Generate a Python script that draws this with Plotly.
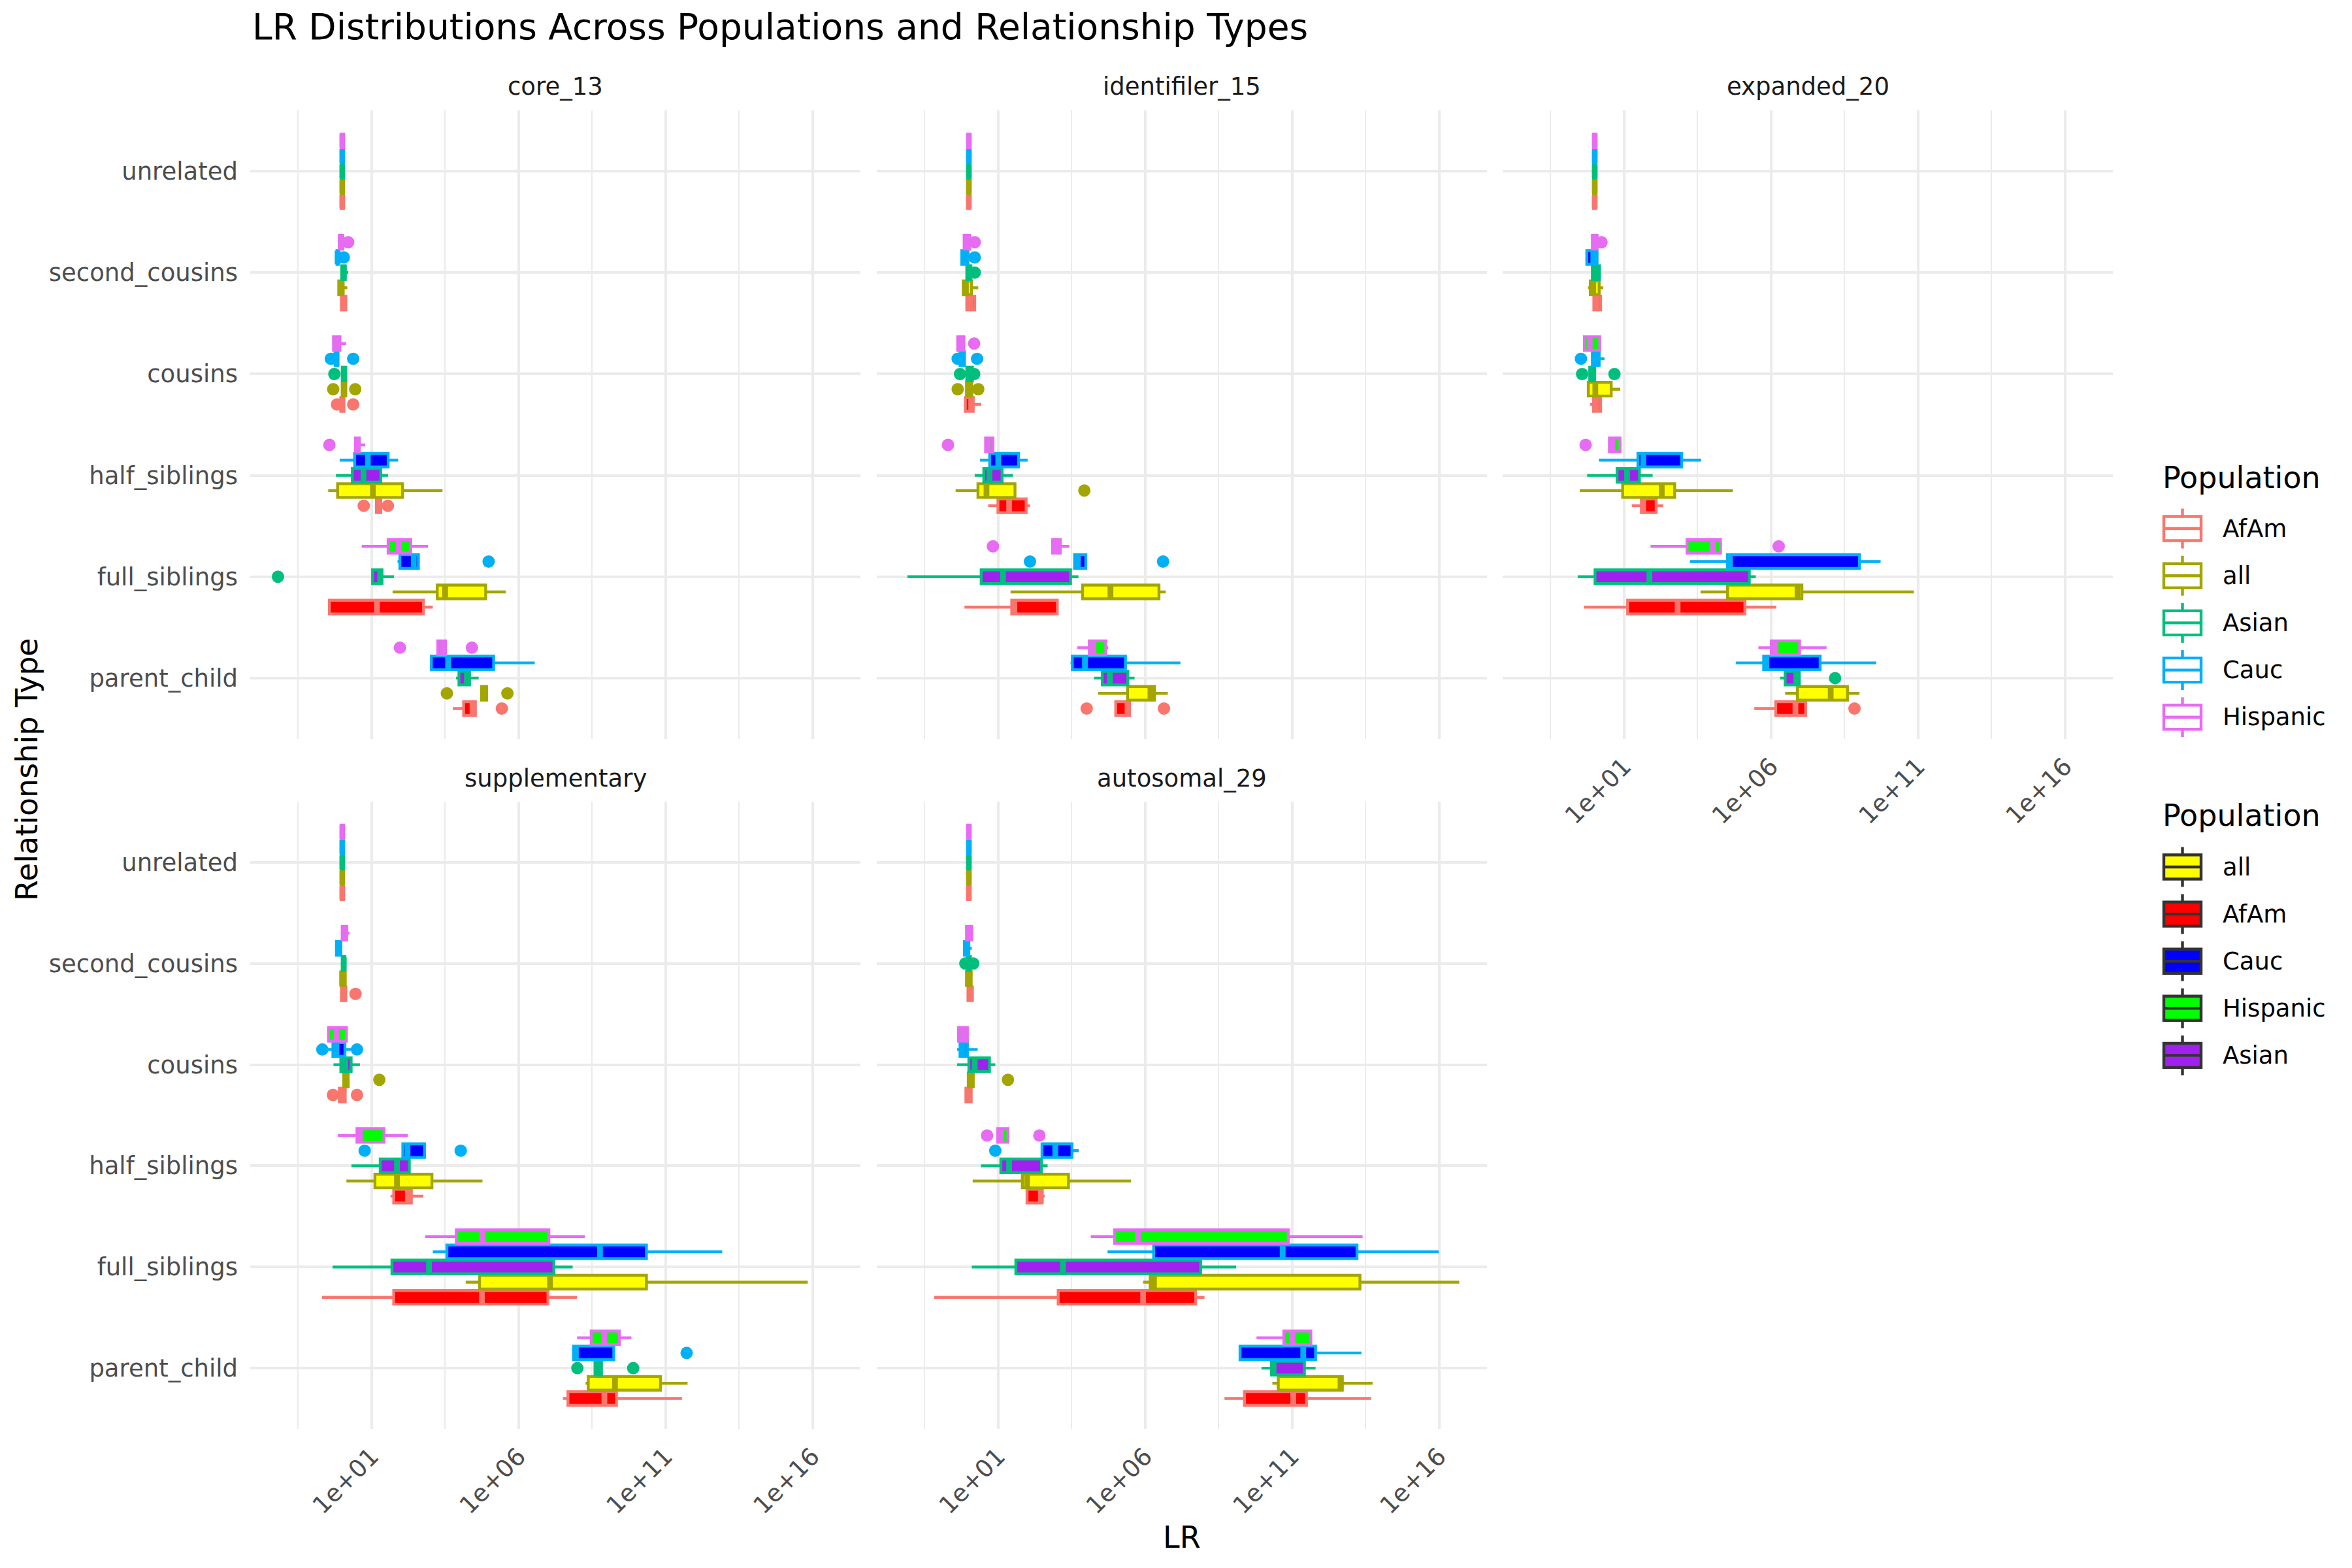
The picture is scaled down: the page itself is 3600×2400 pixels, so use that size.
import plotly.graph_objects as go

# ---------------- data (log10 LR) ----------------
RELATIONSHIPS = ["unrelated", "second_cousins", "cousins", "half_siblings", "full_siblings", "parent_child"]
FACETS = ["core_13", "identifiler_15", "expanded_20", "supplementary", "autosomal_29"]
POPULATIONS = ["AfAm", "all", "Asian", "Cauc", "Hispanic"]          # colour order / dodge order (bottom -> top)
FILL_ORDER = ["all", "AfAm", "Cauc", "Hispanic", "Asian"]            # fill legend order
OUTLINE = {"AfAm": "#F8766D", "all": "#A3A500", "Asian": "#00BF7D", "Cauc": "#00B0F6", "Hispanic": "#E76BF3"}
FILL = {"all": "#FFFF00", "AfAm": "#FF0000", "Cauc": "#0000FF", "Hispanic": "#00FF00", "Asian": "#A020F0"}
TICK_EXPONENTS = [1, 6, 11, 16]
TICK_LABELS = ["1e+01", "1e+06", "1e+11", "1e+16"]

# each entry: (lower whisker, q1, median, q3, upper whisker) in log10(LR), rows follow RELATIONSHIPS
CORE_13 = {
    "AfAm":     [(-0.05, -0.04, 0.0, 0.04, 0.05), (-0.03, -0.03, 0.05, 0.12, 0.12), (-0.05, -0.05, 0.0, 0.05, 0.05),
                 (1.16, 1.16, 1.24, 1.31, 1.31), (-0.49, -0.44, 1.18, 2.76, 3.08), (3.76, 4.13, 4.43, 4.53, 4.53)],
    "all":      [(-0.05, -0.04, 0.0, 0.04, 0.05), (-0.12, -0.12, -0.05, 0.03, 0.17), (0.0, 0.0, 0.05, 0.12, 0.12),
                 (-0.48, -0.16, 1.04, 2.05, 3.41), (1.71, 3.23, 3.5, 4.88, 5.56), (4.74, 4.74, 4.82, 4.91, 4.91)],
    "Asian":    [(-0.05, -0.04, 0.0, 0.04, 0.05), (-0.02, -0.02, 0.05, 0.1, 0.2), (0.0, 0.0, 0.05, 0.12, 0.12),
                 (-0.22, 0.34, 0.72, 1.31, 1.56), (1.03, 1.03, 1.29, 1.35, 1.76), (3.87, 3.97, 4.24, 4.33, 4.64)],
    "Cauc":     [(-0.05, -0.04, 0.0, 0.04, 0.05), (-0.18, -0.18, -0.16, -0.14, -0.14), (-0.24, -0.24, -0.2, -0.15, -0.15),
                 (-0.09, 0.42, 0.87, 1.56, 1.9), (1.88, 1.96, 2.43, 2.59, 2.59), (2.99, 3.03, 3.6, 5.15, 6.55)],
    "Hispanic": [(-0.05, -0.04, 0.0, 0.04, 0.05), (-0.1, -0.1, -0.05, 0.02, 0.02), (-0.3, -0.3, -0.16, -0.08, 0.13),
                 (0.45, 0.45, 0.52, 0.58, 0.78), (0.66, 1.56, 1.92, 2.33, 2.92), (3.25, 3.25, 3.42, 3.51, 3.51)],
}
IDENTIFILER_15 = {
    "AfAm":     [(-0.05, -0.04, 0.0, 0.04, 0.05), (-0.1, -0.07, 0.05, 0.2, 0.25), (-0.15, -0.12, 0.08, 0.15, 0.42),
                 (0.66, 0.99, 1.37, 1.95, 2.08), (-0.15, 1.46, 1.55, 3.01, 3.06), (5.0, 5.0, 5.4, 5.47, 5.47)],
    "all":      [(-0.05, -0.04, 0.0, 0.04, 0.05), (-0.19, -0.19, -0.1, 0.09, 0.32), (-0.08, -0.08, 0.0, 0.1, 0.1),
                 (-0.45, 0.31, 0.6, 1.57, 1.57), (1.42, 3.87, 4.82, 6.47, 6.7), (4.4, 5.4, 6.18, 6.32, 6.77)],
    "Asian":    [(-0.05, -0.04, 0.0, 0.04, 0.05), (-0.07, -0.07, 0.0, 0.07, 0.07), (-0.07, -0.07, 0.03, 0.12, 0.12),
                 (0.2, 0.51, 0.7, 1.13, 1.5), (-2.09, 0.42, 1.16, 3.46, 3.73), (4.26, 4.54, 4.8, 5.41, 5.64)],
    "Cauc":     [(-0.05, -0.04, 0.0, 0.04, 0.05), (-0.24, -0.24, -0.15, -0.03, -0.03), (-0.3, -0.3, -0.22, -0.15, -0.15),
                 (0.38, 0.71, 1.0, 1.69, 2.0), (3.6, 3.6, 3.71, 3.98, 3.98), (3.46, 3.52, 3.95, 5.33, 7.2)],
    "Hispanic": [(-0.05, -0.04, 0.0, 0.04, 0.05), (-0.16, -0.16, -0.08, 0.03, 0.03), (-0.38, -0.38, -0.3, -0.17, -0.17),
                 (0.57, 0.57, 0.65, 0.82, 0.82), (2.85, 2.85, 2.97, 3.11, 3.42), (3.69, 4.1, 4.24, 4.66, 4.74)],
}
EXPANDED_20 = {
    "AfAm":     [(-0.05, -0.04, 0.0, 0.04, 0.05), (-0.03, -0.03, 0.05, 0.2, 0.2), (-0.16, -0.04, 0.05, 0.2, 0.2),
                 (1.26, 1.59, 1.65, 2.09, 2.33), (-0.37, 1.12, 2.82, 5.11, 6.18), (5.43, 6.16, 6.83, 7.18, 7.18)],
    "all":      [(-0.05, -0.04, 0.0, 0.04, 0.05), (-0.23, -0.15, -0.05, 0.15, 0.29), (-0.25, -0.22, 0.02, 0.56, 0.87),
                 (-0.51, 0.95, 2.28, 2.72, 4.7), (3.6, 4.52, 6.9, 7.05, 10.86), (6.48, 6.9, 8.03, 8.6, 9.01)],
    "Asian":    [(-0.05, -0.04, 0.0, 0.04, 0.05), (-0.08, -0.08, 0.02, 0.16, 0.16), (-0.17, -0.17, -0.1, 0.0, 0.0),
                 (-0.26, 0.76, 1.1, 1.52, 1.97), (-0.58, 0.01, 1.86, 5.26, 5.48), (6.31, 6.48, 6.86, 6.96, 6.96)],
    "Cauc":     [(-0.05, -0.04, 0.0, 0.04, 0.05), (-0.27, -0.27, -0.05, 0.08, 0.1), (-0.08, -0.08, 0.05, 0.15, 0.33),
                 (0.14, 1.47, 1.65, 2.96, 3.62), (3.24, 4.52, 4.6, 9.01, 9.73), (4.8, 5.75, 5.84, 7.67, 9.58)],
    "Hispanic": [(-0.05, -0.04, 0.0, 0.04, 0.05), (-0.12, -0.08, 0.0, 0.08, 0.08), (-0.35, -0.35, -0.17, 0.17, 0.17),
                 (0.5, 0.5, 0.6, 0.86, 0.86), (1.9, 3.14, 4.02, 4.28, 4.28), (5.57, 6.01, 6.15, 6.97, 7.89)],
}
SUPPLEMENTARY = {
    "AfAm":     [(-0.05, -0.04, 0.0, 0.04, 0.05), (-0.03, -0.03, 0.05, 0.12, 0.12), (-0.1, -0.1, 0.0, 0.1, 0.1),
                 (1.64, 1.75, 2.23, 2.35, 2.76), (-0.69, 1.75, 4.75, 7.0, 7.99), (7.51, 7.68, 8.92, 9.33, 11.56)],
    "all":      [(-0.05, -0.04, 0.0, 0.04, 0.05), (-0.1, -0.05, 0.0, 0.1, 0.15), (0.0, 0.05, 0.1, 0.2, 0.2),
                 (0.14, 1.11, 1.86, 3.05, 4.77), (4.2, 4.67, 7.07, 10.35, 15.84), (8.28, 8.37, 9.28, 10.83, 11.75)],
    "Asian":    [(-0.05, -0.04, 0.0, 0.04, 0.05), (-0.05, 0.0, 0.05, 0.08, 0.1), (-0.3, -0.05, 0.1, 0.3, 0.6),
                 (0.31, 1.29, 1.86, 2.28, 2.28), (-0.33, 1.69, 2.95, 7.2, 7.84), (8.6, 8.6, 8.72, 8.82, 8.82)],
    "Cauc":     [(-0.05, -0.04, 0.0, 0.04, 0.05), (-0.25, -0.2, -0.12, -0.05, -0.05), (-0.5, -0.32, -0.2, 0.09, 0.3),
                 (2.06, 2.06, 2.22, 2.8, 2.8), (3.08, 3.56, 8.77, 10.35, 12.93), (7.87, 7.87, 7.95, 9.24, 9.24)],
    "Hispanic": [(-0.05, -0.04, 0.0, 0.04, 0.05), (0.0, 0.0, 0.05, 0.15, 0.25), (-0.47, -0.47, -0.2, 0.14, 0.14),
                 (-0.15, 0.5, 0.6, 1.42, 2.23), (2.82, 3.88, 4.77, 7.03, 8.26), (7.99, 8.47, 8.92, 9.43, 9.84)],
}
AUTOSOMAL_29 = {
    "AfAm":     [(-0.05, -0.04, 0.0, 0.04, 0.05), (-0.03, -0.03, 0.05, 0.12, 0.12), (-0.1, -0.1, 0.0, 0.08, 0.08),
                 (1.98, 1.98, 2.45, 2.49, 2.58), (-1.18, 3.04, 5.93, 7.72, 8.02), (8.7, 9.38, 11.04, 11.49, 13.69)],
    "all":      [(-0.05, -0.04, 0.0, 0.04, 0.05), (-0.1, -0.08, 0.0, 0.08, 0.1), (-0.02, -0.02, 0.05, 0.15, 0.15),
                 (0.13, 1.82, 1.98, 3.39, 5.52), (5.93, 6.17, 6.3, 13.31, 16.69), (10.33, 10.53, 12.65, 12.71, 13.74)],
    "Asian":    [(-0.05, -0.04, 0.0, 0.04, 0.05), (-0.05, -0.05, 0.0, 0.05, 0.05), (-0.4, 0.0, 0.2, 0.7, 0.9),
                 (0.41, 1.09, 1.37, 2.47, 2.68), (0.1, 1.6, 3.2, 7.89, 9.1), (9.96, 10.3, 10.37, 11.42, 11.8)],
    "Cauc":     [(-0.05, -0.04, 0.0, 0.04, 0.05), (-0.15, -0.15, -0.08, 0.0, 0.1), (-0.4, -0.3, -0.2, -0.05, 0.3),
                 (2.49, 2.49, 2.94, 3.51, 3.74), (4.72, 6.29, 10.68, 13.21, 15.99), (9.23, 9.23, 11.38, 11.8, 13.36)],
    "Hispanic": [(-0.05, -0.04, 0.0, 0.04, 0.05), (-0.1, -0.08, 0.0, 0.1, 0.1), (-0.35, -0.35, -0.2, -0.05, -0.05),
                 (0.98, 0.98, 1.1, 1.33, 1.33), (4.15, 4.96, 5.75, 10.87, 13.4), (9.79, 10.72, 11.01, 11.64, 11.64)],
}

# outliers: (relationship, log10 LR)
CORE_13_OUT = {
    "AfAm": [("cousins", -0.18), ("cousins", 0.37), ("half_siblings", 0.73), ("half_siblings", 1.55), ("parent_child", 5.43)],
    "all": [("cousins", -0.31), ("cousins", 0.44), ("parent_child", 3.56), ("parent_child", 5.62)],
    "Asian": [("cousins", -0.27), ("full_siblings", -2.19)],
    "Cauc": [("second_cousins", 0.05), ("cousins", -0.39), ("cousins", 0.37), ("full_siblings", 4.98)],
    "Hispanic": [("second_cousins", 0.2), ("half_siblings", -0.44), ("parent_child", 1.96), ("parent_child", 4.41)],
}
IDENTIFILER_15_OUT = {
    "AfAm": [("parent_child", 4.01), ("parent_child", 6.64)],
    "all": [("cousins", -0.38), ("cousins", 0.32), ("half_siblings", 3.93)],
    "Asian": [("second_cousins", 0.2), ("cousins", -0.3), ("cousins", 0.18)],
    "Cauc": [("second_cousins", 0.2), ("cousins", -0.38), ("cousins", 0.28), ("full_siblings", 2.08), ("full_siblings", 6.61)],
    "Hispanic": [("second_cousins", 0.2), ("cousins", 0.18), ("half_siblings", -0.71), ("full_siblings", 0.82)],
}
EXPANDED_20_OUT = {
    "AfAm": [("parent_child", 8.84)],
    "all": [],
    "Asian": [("cousins", -0.43), ("cousins", 0.67), ("parent_child", 8.18)],
    "Cauc": [("cousins", -0.47)],
    "Hispanic": [("second_cousins", 0.23), ("half_siblings", -0.31), ("full_siblings", 6.26)],
}
SUPPLEMENTARY_OUT = {
    "AfAm": [("second_cousins", 0.45), ("cousins", -0.32), ("cousins", 0.5)],
    "all": [("cousins", 1.26)],
    "Asian": [("parent_child", 8.0), ("parent_child", 9.9)],
    "Cauc": [("cousins", -0.68), ("cousins", 0.5), ("half_siblings", 0.76), ("half_siblings", 4.03), ("parent_child", 11.72)],
    "Hispanic": [],
}
AUTOSOMAL_29_OUT = {
    "AfAm": [],
    "all": [("cousins", 1.33)],
    "Asian": [("second_cousins", -0.12), ("second_cousins", 0.15)],
    "Cauc": [("half_siblings", 0.9)],
    "Hispanic": [("half_siblings", 0.62), ("half_siblings", 2.4)],
}

STATS = {"core_13": CORE_13, "identifiler_15": IDENTIFILER_15, "expanded_20": EXPANDED_20,
         "supplementary": SUPPLEMENTARY, "autosomal_29": AUTOSOMAL_29}
OUTLIERS = {"core_13": CORE_13_OUT, "identifiler_15": IDENTIFILER_15_OUT, "expanded_20": EXPANDED_20_OUT,
            "supplementary": SUPPLEMENTARY_OUT, "autosomal_29": AUTOSOMAL_29_OUT}

# ---------------- layout geometry (screen pixels) ----------------
SCREEN_W, SCREEN_H = 3600, 2400
OFF = 8                                   # default page body margin
W, H = SCREEN_W - OFF, SCREEN_H - OFF


def px(sx):
    return (sx - OFF) / W


def py(sy):
    return 1 - (sy - OFF) / H


COL_X = [(383, 1317), (1342, 2276), (2300, 3234)]
ROW_Y = [(169, 1131), (1227, 2187)]
FACET_POS = {"core_13": (0, 0), "identifiler_15": (0, 1), "expanded_20": (0, 2),
             "supplementary": (1, 0), "autosomal_29": (1, 1)}
DODGE = 0.15
BOX_W = 0.135
LW = 4.4
FONT = "DejaVu Sans"

n_rel = len(RELATIONSHIPS)
rel_index = {r: n_rel - 1 - i for i, r in enumerate(RELATIONSHIPS)}   # unrelated at top


def pos_of(rel, pop):
    k = POPULATIONS.index(pop)
    return rel_index[rel] + (k - (len(POPULATIONS) - 1) / 2) * DODGE


# x range: data extent expanded by 5% (as ggplot)
all_vals = []
for f in FACETS:
    for p in POPULATIONS:
        for t in STATS[f][p]:
            all_vals.extend(t)
        all_vals.extend(v for _, v in OUTLIERS[f][p])
lo_all, hi_all = min(all_vals), max(all_vals)
span = hi_all - lo_all
XRANGE = [lo_all - 0.05 * span, hi_all + 0.05 * span]

fig = go.Figure()

for fi, facet in enumerate(FACETS):
    ax = "" if fi == 0 else str(fi + 1)
    xa, ya = "x" + ax, "y" + ax
    for pop in POPULATIONS:
        st = STATS[facet][pop]
        ys = [pos_of(r, pop) for r in RELATIONSHIPS]
        fig.add_trace(go.Box(
            orientation="h", y=ys, name=pop,
            lowerfence=[10 ** t[0] for t in st], q1=[10 ** t[1] for t in st],
            median=[10 ** t[2] for t in st], q3=[10 ** t[3] for t in st],
            upperfence=[10 ** t[4] for t in st],
            width=BOX_W, whiskerwidth=0, boxpoints=False,
            line=dict(color=OUTLINE[pop], width=LW), fillcolor=FILL[pop],
            xaxis=xa, yaxis=ya, showlegend=False, hoverinfo="skip"))
    for pop in POPULATIONS:
        st = STATS[facet][pop]
        mx, my = [], []
        for r, t in zip(RELATIONSHIPS, st):
            yc = pos_of(r, pop)
            mx += [10 ** t[2], 10 ** t[2], None]
            my += [yc - BOX_W / 2, yc + BOX_W / 2, None]
        fig.add_trace(go.Scatter(x=mx, y=my, mode="lines", line=dict(color=OUTLINE[pop], width=2 * LW),
                                 xaxis=xa, yaxis=ya, showlegend=False, hoverinfo="skip"))
        outs = OUTLIERS[facet][pop]
        if outs:
            fig.add_trace(go.Scatter(
                x=[10 ** v for _, v in outs], y=[pos_of(r, pop) for r, _ in outs], mode="markers",
                marker=dict(color=OUTLINE[pop], size=19, line=dict(width=0)),
                xaxis=xa, yaxis=ya, showlegend=False, hoverinfo="skip"))

layout = dict(
    width=W, height=H, autosize=False,
    margin=dict(l=0, r=0, t=0, b=0),
    paper_bgcolor="white", plot_bgcolor="white", showlegend=False,
    font=dict(family=FONT, color="black"),
    title=dict(text="LR Distributions Across Populations and Relationship Types",
               x=px(386), xanchor="left", y=py(41), yanchor="middle",
               font=dict(size=55, color="black", family=FONT)),
)

tickvals = [10 ** e for e in TICK_EXPONENTS]
minorvals = [10 ** (e - 2.5) for e in TICK_EXPONENTS]
annotations = []
shapes = []
for fi, facet in enumerate(FACETS):
    r, c = FACET_POS[facet]
    ax = "" if fi == 0 else str(fi + 1)
    x0, x1 = COL_X[c]
    y0, y1 = ROW_Y[r]
    show_x = (r == 1) or (c == 2)
    layout["xaxis" + ax] = dict(
        type="log", range=XRANGE, domain=[px(x0), px(x1)], anchor="y" + ax,
        tickmode="array", tickvals=tickvals, ticktext=TICK_LABELS, showticklabels=show_x,
        tickangle=-45, tickfont=dict(size=37, color="#4D4D4D", family=FONT), ticks="",
        ticklabelstandoff=12,
        showgrid=True, gridcolor="#EBEBEB", gridwidth=LW, zeroline=False, showline=False,
        minor=dict(tickmode="array", tickvals=minorvals, showgrid=True, gridcolor="#EBEBEB",
                   gridwidth=LW / 2, ticks=""),
    )
    layout["yaxis" + ax] = dict(
        range=[-0.6, n_rel - 1 + 0.6], domain=[py(y1), py(y0)], anchor="x" + ax,
        tickmode="array", tickvals=[rel_index[rr] for rr in RELATIONSHIPS], ticktext=RELATIONSHIPS,
        showticklabels=(c == 0), tickfont=dict(size=37, color="#4D4D4D", family=FONT), ticks="",
        ticklabelstandoff=18,
        showgrid=True, gridcolor="#EBEBEB", gridwidth=LW, zeroline=False, showline=False,
    )
    annotations.append(dict(text=facet, x=px((x0 + x1) / 2), y=py(y0 - 36), xref="paper", yref="paper",
                            xanchor="center", yanchor="middle", showarrow=False,
                            font=dict(size=37, color="#1A1A1A", family=FONT)))

annotations.append(dict(text="LR", x=px((COL_X[0][0] + COL_X[2][1]) / 2), y=py(2353), xref="paper",
                        yref="paper", xanchor="center", yanchor="middle", showarrow=False,
                        font=dict(size=46, color="black", family=FONT)))
annotations.append(dict(text="Relationship Type", x=px(41), y=py((ROW_Y[0][0] + ROW_Y[1][1]) / 2),
                        xref="paper", yref="paper", xanchor="center", yanchor="middle", showarrow=False,
                        textangle=-90, font=dict(size=46, color="black", family=FONT)))

# ---------------- legends (ggplot-style boxplot keys) ----------------
KEY_X0, KEY_X1 = 3312, 3369
KEY_H = 37
WHISK = 12
LEG_TEXT_X = 3400
LEG_TITLE_X = 3308
LEGENDS = [
    (731, 809, 72.2, POPULATIONS, lambda p: "white", lambda p: OUTLINE[p]),
    (1248, 1327, 72.1, FILL_ORDER, lambda p: FILL[p], lambda p: "#333333"),
]
for title_y, first_y, step, pops, fill_fn, line_fn in LEGENDS:
    annotations.append(dict(text="Population", x=px(LEG_TITLE_X), y=py(title_y), xref="paper", yref="paper",
                            xanchor="left", yanchor="middle", showarrow=False,
                            font=dict(size=46, color="black", family=FONT)))
    for i, pop in enumerate(pops):
        yc = first_y + i * step
        xm = (KEY_X0 + KEY_X1) / 2
        lc = line_fn(pop)
        shapes.append(dict(type="line", xref="paper", yref="paper", x0=px(xm), x1=px(xm),
                           y0=py(yc - KEY_H / 2 - WHISK), y1=py(yc + KEY_H / 2 + WHISK),
                           line=dict(color=lc, width=LW)))
        shapes.append(dict(type="rect", xref="paper", yref="paper", x0=px(KEY_X0), x1=px(KEY_X1),
                           y0=py(yc - KEY_H / 2), y1=py(yc + KEY_H / 2),
                           fillcolor=fill_fn(pop), line=dict(color=lc, width=LW)))
        shapes.append(dict(type="line", xref="paper", yref="paper", x0=px(KEY_X0), x1=px(KEY_X1),
                           y0=py(yc), y1=py(yc), line=dict(color=lc, width=LW)))
        annotations.append(dict(text=pop, x=px(LEG_TEXT_X), y=py(yc), xref="paper", yref="paper",
                                xanchor="left", yanchor="middle", showarrow=False,
                                font=dict(size=37, color="black", family=FONT)))

layout["annotations"] = annotations
layout["shapes"] = shapes
fig.update_layout(**layout)

fig.write_html("out.html")
